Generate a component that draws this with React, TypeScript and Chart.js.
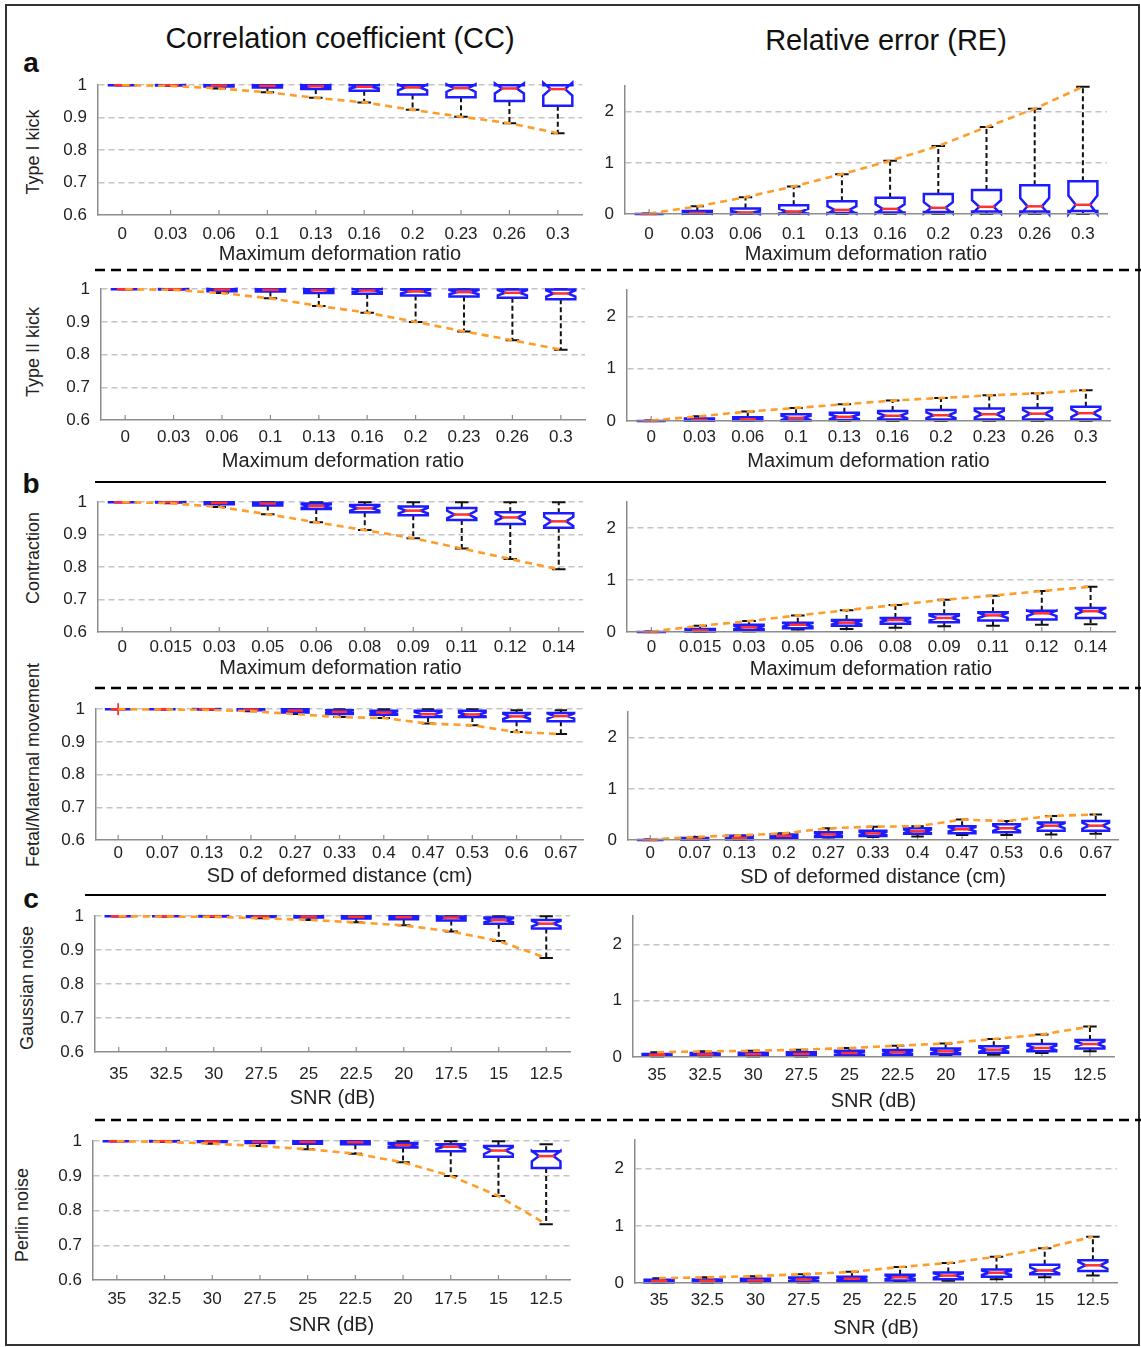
import React, { useEffect, useRef } from "react";
import { Chart, registerables } from "chart.js";

Chart.register(...registerables);

const FONT = '"Liberation Sans", Arial, Helvetica, sans-serif';
const NOTCH_SAMPLES = 25;

// ---------- categories ----------
const kickLabels = ["0", "0.03", "0.06", "0.1", "0.13", "0.16", "0.2", "0.23", "0.26", "0.3"];
const contractionLabels = ["0", "0.015", "0.03", "0.05", "0.06", "0.08", "0.09", "0.11", "0.12", "0.14"];
const movementLabels = ["0", "0.07", "0.13", "0.2", "0.27", "0.33", "0.4", "0.47", "0.53", "0.6", "0.67"];
const snrLabels = ["35", "32.5", "30", "27.5", "25", "22.5", "20", "17.5", "15", "12.5"];

// ---------- box statistics: [min, q1, median, q3, max] ----------
const kick1CC = [
  [1, 1, 1, 1, 1], [0.998, 0.999, 1, 1, 1], [0.99, 0.996, 0.999, 1, 1], [0.978, 0.993, 0.998, 1, 1],
  [0.961, 0.988, 0.997, 1, 1], [0.947, 0.983, 0.995, 1, 1], [0.924, 0.971, 0.993, 1, 1],
  [0.903, 0.963, 0.991, 1, 1], [0.883, 0.951, 0.99, 1, 1], [0.852, 0.937, 0.988, 1, 1],
];
const kick1RE = [
  [0, 0, 0, 0, 0.01], [0, 0.005, 0.02, 0.06, 0.15], [0, 0.01, 0.03, 0.11, 0.33], [0, 0.01, 0.05, 0.17, 0.54],
  [0, 0.02, 0.08, 0.25, 0.78], [0, 0.03, 0.1, 0.32, 1.04], [0, 0.04, 0.12, 0.39, 1.33],
  [0, 0.05, 0.14, 0.47, 1.7], [0, 0.05, 0.15, 0.56, 2.06], [0, 0.06, 0.18, 0.64, 2.49],
];
const kick2CC = [
  [1, 1, 1, 1, 1], [0.998, 0.999, 1, 1, 1], [0.988, 0.994, 0.999, 1, 1], [0.972, 0.993, 0.998, 1, 1],
  [0.949, 0.988, 0.997, 1, 1], [0.928, 0.986, 0.996, 1, 1], [0.9, 0.981, 0.993, 1, 1],
  [0.871, 0.978, 0.991, 0.999, 1], [0.844, 0.974, 0.989, 0.999, 1], [0.815, 0.969, 0.987, 0.999, 1],
];
const kick2RE = [
  [0, 0, 0, 0, 0.01], [0, 0.005, 0.02, 0.05, 0.09], [0, 0.01, 0.03, 0.07, 0.18], [0, 0.01, 0.06, 0.13, 0.25],
  [0, 0.02, 0.08, 0.16, 0.32], [0, 0.03, 0.1, 0.19, 0.39], [0, 0.03, 0.11, 0.21, 0.44],
  [0, 0.03, 0.13, 0.24, 0.49], [0, 0.03, 0.14, 0.25, 0.53], [0, 0.03, 0.15, 0.27, 0.59],
];
const contractionCC = [
  [1, 1, 1, 1, 1], [0.997, 0.999, 1, 1, 1], [0.985, 0.994, 0.998, 1, 1], [0.963, 0.99, 0.996, 0.999, 1],
  [0.938, 0.979, 0.988, 0.996, 1], [0.914, 0.969, 0.981, 0.991, 1], [0.889, 0.96, 0.974, 0.987, 1],
  [0.857, 0.945, 0.962, 0.982, 1], [0.825, 0.933, 0.953, 0.969, 1], [0.793, 0.921, 0.941, 0.966, 1],
];
const contractionRE = [
  [0, 0, 0, 0, 0.01], [0, 0.01, 0.03, 0.06, 0.12], [0.01, 0.04, 0.09, 0.14, 0.21], [0.05, 0.07, 0.14, 0.18, 0.32],
  [0.06, 0.12, 0.18, 0.23, 0.42], [0.08, 0.16, 0.23, 0.27, 0.52], [0.11, 0.19, 0.27, 0.34, 0.62],
  [0.12, 0.22, 0.32, 0.38, 0.7], [0.14, 0.24, 0.36, 0.41, 0.79], [0.15, 0.27, 0.4, 0.46, 0.87],
];
const movementCC = [
  [1, 1, 1, 1, 1], [0.999, 1, 1, 1, 1], [0.998, 0.999, 1, 1, 1], [0.994, 0.997, 0.999, 1, 1],
  [0.985, 0.99, 0.996, 1, 1], [0.976, 0.985, 0.992, 0.997, 1], [0.973, 0.983, 0.99, 0.995, 1],
  [0.956, 0.976, 0.985, 0.995, 1], [0.951, 0.976, 0.984, 0.995, 1], [0.93, 0.963, 0.978, 0.988, 0.997],
  [0.924, 0.963, 0.979, 0.988, 0.997],
];
const movementOutliersCC = [[0, 1]];
const movementRE = [
  [0, 0, 0, 0, 0.01], [0, 0.005, 0.02, 0.04, 0.06], [0, 0.01, 0.04, 0.085, 0.09], [0.02, 0.04, 0.08, 0.11, 0.13],
  [0.05, 0.06, 0.11, 0.15, 0.23], [0.06, 0.08, 0.13, 0.18, 0.26], [0.07, 0.12, 0.17, 0.23, 0.27],
  [0.1, 0.13, 0.21, 0.27, 0.4], [0.1, 0.15, 0.23, 0.31, 0.37], [0.11, 0.18, 0.28, 0.34, 0.47],
  [0.12, 0.18, 0.28, 0.37, 0.5],
];
const gaussianCC = [
  [1, 1, 1, 1, 1], [0.999, 1, 1, 1, 1], [0.998, 0.999, 1, 1, 1], [0.994, 0.998, 0.999, 1, 1],
  [0.989, 0.996, 0.999, 1, 1], [0.982, 0.993, 0.998, 1, 1], [0.973, 0.991, 0.997, 1, 1],
  [0.955, 0.987, 0.996, 0.999, 1], [0.927, 0.978, 0.988, 0.996, 1], [0.877, 0.964, 0.978, 0.989, 1],
];
const gaussianRE = [
  [0.01, 0.02, 0.04, 0.055, 0.085], [0.01, 0.02, 0.045, 0.07, 0.1], [0.01, 0.02, 0.05, 0.075, 0.11],
  [0.01, 0.025, 0.055, 0.085, 0.13], [0.02, 0.03, 0.07, 0.11, 0.16], [0.02, 0.04, 0.085, 0.125, 0.2],
  [0.03, 0.05, 0.1, 0.15, 0.24], [0.04, 0.075, 0.13, 0.19, 0.32], [0.07, 0.1, 0.16, 0.23, 0.4],
  [0.1, 0.15, 0.23, 0.3, 0.54],
];
const perlinCC = [
  [1, 1, 1, 1, 1], [0.998, 0.999, 1, 1, 1], [0.993, 0.998, 0.999, 1, 1], [0.986, 0.995, 0.998, 1, 1],
  [0.977, 0.993, 0.998, 1, 1], [0.964, 0.991, 0.997, 1, 1], [0.939, 0.982, 0.989, 0.995, 1],
  [0.9, 0.971, 0.984, 0.991, 1], [0.842, 0.955, 0.973, 0.986, 1], [0.761, 0.923, 0.957, 0.971, 0.991],
];
const perlinRE = [
  [0.005, 0.01, 0.035, 0.055, 0.085], [0.005, 0.015, 0.04, 0.06, 0.1], [0.01, 0.02, 0.045, 0.073, 0.12],
  [0.01, 0.02, 0.06, 0.095, 0.155], [0.02, 0.03, 0.075, 0.11, 0.195], [0.03, 0.045, 0.1, 0.145, 0.28],
  [0.04, 0.065, 0.13, 0.185, 0.35], [0.065, 0.11, 0.18, 0.235, 0.46], [0.1, 0.155, 0.22, 0.32, 0.61],
  [0.13, 0.21, 0.31, 0.4, 0.81],
];

// ---------- text ----------
const ccTitle = "Correlation coefficient (CC)";
const reTitle = "Relative error (RE)";
const ratioTitle = "Maximum deformation ratio";
const distanceTitle = "SD of deformed distance (cm)";
const snrTitle = "SNR (dB)";
const rowTitles = ["Type I kick", "Type II kick", "Contraction", "Fetal/Maternal movement", "Gaussian noise", "Perlin noise"];

interface PanelDef {
  id: string;
  labels: string[];
  stats: number[][];
  kind: "cc" | "re";
  left: number;
  top: number;
  right: number;
  bottom: number;
  tickGap: number;
  titleGap: number;
  xTitle: string;
  outliers?: number[][];
}

const panels: PanelDef[] = [
  { id: "a1c", labels: kickLabels, stats: kick1CC, kind: "cc", left: 98, top: 80, right: 582, bottom: 215, tickGap: 19, titleGap: 39, xTitle: ratioTitle },
  { id: "a1r", labels: kickLabels, stats: kick1RE, kind: "re", left: 625, top: 81, right: 1107, bottom: 214, tickGap: 20, titleGap: 40, xTitle: ratioTitle },
  { id: "a2c", labels: kickLabels, stats: kick2CC, kind: "cc", left: 101, top: 284, right: 585, bottom: 420, tickGap: 17, titleGap: 41, xTitle: ratioTitle },
  { id: "a2r", labels: kickLabels, stats: kick2RE, kind: "re", left: 627, top: 285, right: 1110, bottom: 421, tickGap: 16, titleGap: 40, xTitle: ratioTitle },
  { id: "b1c", labels: contractionLabels, stats: contractionCC, kind: "cc", left: 98, top: 497, right: 583, bottom: 632, tickGap: 15, titleGap: 36, xTitle: ratioTitle },
  { id: "b1r", labels: contractionLabels, stats: contractionRE, kind: "re", left: 627, top: 497, right: 1115, bottom: 632, tickGap: 15, titleGap: 37, xTitle: ratioTitle },
  { id: "b2c", labels: movementLabels, stats: movementCC, kind: "cc", left: 96, top: 704, right: 583, bottom: 840, tickGap: 13, titleGap: 36, xTitle: distanceTitle, outliers: movementOutliersCC },
  { id: "b2r", labels: movementLabels, stats: movementRE, kind: "re", left: 628, top: 707, right: 1118, bottom: 840, tickGap: 13, titleGap: 37, xTitle: distanceTitle },
  { id: "c1c", labels: snrLabels, stats: gaussianCC, kind: "cc", left: 95, top: 911, right: 570, bottom: 1052, tickGap: 22, titleGap: 46, xTitle: snrTitle },
  { id: "c1r", labels: snrLabels, stats: gaussianRE, kind: "re", left: 633, top: 911, right: 1114, bottom: 1057, tickGap: 18, titleGap: 44, xTitle: snrTitle },
  { id: "c2c", labels: snrLabels, stats: perlinCC, kind: "cc", left: 93, top: 1136, right: 570, bottom: 1280, tickGap: 19, titleGap: 45, xTitle: snrTitle },
  { id: "c2r", labels: snrLabels, stats: perlinRE, kind: "re", left: 635, top: 1135, right: 1117, bottom: 1283, tickGap: 17, titleGap: 45, xTitle: snrTitle },
];

// rotated row titles: [x centre, y centre]
const rowTitlePos = [
  [33, 152],
  [33, 352],
  [33, 558],
  [33, 765],
  [27, 988],
  [22, 1215],
];

const BLUE = "#1c1cff";
const RED = "#ff3030";
const ORANGE = "#ff9d2a";
const AXIS = "#8c8c8c";
const GRID = "#c4c4c4";
const TEXT = "#222";

function makeBoxPlugin(def: PanelDef) {
  return {
    id: "boxes-" + def.id,
    beforeDatasetsDraw(chart: any) {
      const xs = chart.scales.x;
      const ys = chart.scales.y;
      const ctx = chart.ctx as CanvasRenderingContext2D;
      const step = xs.getPixelForValue(1) - xs.getPixelForValue(0);
      const half = step * 0.3;
      const capHalf = step * 0.14;
      const Y = (v: number) => ys.getPixelForValue(v);
      ctx.save();
      ctx.strokeStyle = AXIS;
      ctx.lineWidth = 1.2;
      def.labels.forEach((_, i) => {
        const px = xs.getPixelForValue(i);
        ctx.beginPath();
        ctx.moveTo(px, ys.bottom);
        ctx.lineTo(px, ys.bottom - 5);
        ctx.stroke();
      });
      def.stats.forEach((s, i) => {
        const [mn, q1, md, q3, mx] = s;
        const cx = xs.getPixelForValue(i);
        ctx.strokeStyle = "#111";
        ctx.lineWidth = 2;
        ctx.setLineDash([5, 3]);
        ctx.beginPath();
        ctx.moveTo(cx, Y(q3));
        ctx.lineTo(cx, Y(mx));
        ctx.moveTo(cx, Y(q1));
        ctx.lineTo(cx, Y(mn));
        ctx.stroke();
        ctx.setLineDash([]);
        ctx.beginPath();
        ctx.moveTo(cx - capHalf, Y(mx));
        ctx.lineTo(cx + capHalf, Y(mx));
        ctx.moveTo(cx - capHalf, Y(mn));
        ctx.lineTo(cx + capHalf, Y(mn));
        ctx.stroke();
        const d = (1.57 * (q3 - q1)) / Math.sqrt(NOTCH_SAMPLES);
        const nl = md - d;
        const nh = md + d;
        ctx.beginPath();
        ctx.moveTo(cx - half, Y(q1));
        ctx.lineTo(cx - half, Y(nl));
        ctx.lineTo(cx - half / 2, Y(md));
        ctx.lineTo(cx - half, Y(nh));
        ctx.lineTo(cx - half, Y(q3));
        ctx.lineTo(cx + half, Y(q3));
        ctx.lineTo(cx + half, Y(nh));
        ctx.lineTo(cx + half / 2, Y(md));
        ctx.lineTo(cx + half, Y(nl));
        ctx.lineTo(cx + half, Y(q1));
        ctx.closePath();
        ctx.fillStyle = "#ffffff";
        ctx.fill();
        ctx.strokeStyle = BLUE;
        ctx.lineWidth = 2.5;
        ctx.stroke();
        ctx.strokeStyle = RED;
        ctx.lineWidth = 2.5;
        ctx.beginPath();
        ctx.moveTo(cx - half / 2 - 1, Y(md));
        ctx.lineTo(cx + half / 2 + 1, Y(md));
        ctx.stroke();
      });
      (def.outliers || []).forEach(([i, v]) => {
        const cx = xs.getPixelForValue(i);
        const cy = Y(v);
        ctx.strokeStyle = RED;
        ctx.lineWidth = 1.8;
        ctx.beginPath();
        ctx.moveTo(cx - 5, cy);
        ctx.lineTo(cx + 5, cy);
        ctx.moveTo(cx, cy - 6);
        ctx.lineTo(cx, cy + 6);
        ctx.stroke();
      });
      ctx.restore();
    },
  };
}

function BoxPanel({ def }: { def: PanelDef }) {
  const ref = useRef<HTMLCanvasElement | null>(null);
  const isCC = def.kind === "cc";
  const yW = 50;
  const padT = 16;
  const padR = 16;
  const hx = def.titleGap + 12;
  const cLeft = def.left - yW;
  const cTop = def.top - padT;
  const cW = def.right - def.left + yW + padR;
  const cH = def.bottom - def.top + padT + hx;

  useEffect(() => {
    if (!ref.current) return;
    const yMin = isCC ? 0.6 : 0;
    const yMax = isCC ? 1 : 2.5;
    const lineData = def.stats.map((s) => (isCC ? s[0] : s[4]));
    const chart = new Chart(ref.current, {
      type: "line",
      data: {
        labels: def.labels,
        datasets: [
          {
            data: lineData,
            borderColor: ORANGE,
            borderDash: [7, 5],
            borderWidth: 2.6,
            pointRadius: 0,
            fill: false,
            tension: 0,
            clip: false as any,
          },
        ],
      },
      options: {
        animation: false,
        responsive: false,
        maintainAspectRatio: false,
        devicePixelRatio: 1,
        events: [],
        layout: { padding: { left: 0, top: padT, right: padR, bottom: 0 } },
        plugins: { legend: { display: false }, tooltip: { enabled: false } },
        scales: {
          x: {
            type: "category",
            offset: true,
            grid: { display: false, drawTicks: false },
            border: { display: true, color: AXIS, width: 1.5, z: 1 },
            ticks: {
              autoSkip: false,
              maxRotation: 0,
              padding: def.tickGap - 10.2,
              color: TEXT,
              font: { family: FONT, size: 17 },
            },
            title: {
              display: true,
              text: def.xTitle,
              color: TEXT,
              font: { family: FONT, size: 20 },
              padding: { top: 0, bottom: 0 },
            },
            afterFit: (s: any) => {
              s.height = hx;
            },
          },
          y: {
            type: "linear",
            min: yMin,
            max: yMax,
            grid: {
              drawTicks: false,
              lineWidth: 1.5,
              color: (c: any) =>
                c.tick && Math.abs(c.tick.value - yMin) < 1e-6 ? "rgba(0,0,0,0)" : GRID,
            },
            border: { display: true, color: AXIS, width: 1.5, dash: [6, 4] },
            ticks: {
              stepSize: isCC ? 0.1 : 1,
              padding: 11,
              color: TEXT,
              font: { family: FONT, size: 17 },
              callback: (v: any) => String(+Number(v).toFixed(2)),
            },
            afterBuildTicks: (s: any) => {
              s.ticks = s.ticks.filter((t: any) => (isCC ? true : t.value <= 2 + 1e-6));
            },
            afterFit: (s: any) => {
              s.width = yW;
            },
          },
        },
      } as any,
      plugins: [makeBoxPlugin(def)],
    });
    // make the plot area land exactly on the intended rectangle
    const pad = { left: 0, top: padT, right: padR, bottom: 0 };
    for (let k = 0; k < 4; k++) {
      const ca = chart.chartArea;
      const dT = padT - ca.top;
      const dL = yW - ca.left;
      const dR = cW - padR - ca.right;
      const dB = cH - hx - ca.bottom;
      if (Math.abs(dT) < 0.5 && Math.abs(dL) < 0.5 && Math.abs(dR) < 0.5 && Math.abs(dB) < 0.5) break;
      pad.top += dT;
      pad.left += dL;
      pad.right -= dR;
      pad.bottom -= dB;
      (chart.options as any).layout.padding = { ...pad };
      chart.update();
    }
    return () => chart.destroy();
  }, [def]);

  return (
    <canvas
      ref={ref}
      width={cW}
      height={cH}
      style={{ position: "absolute", left: cLeft, top: cTop, width: cW, height: cH }}
    />
  );
}

const centered = (x: number, y: number): React.CSSProperties => ({
  position: "absolute",
  left: x,
  top: y,
  transform: "translate(-50%, -50%)",
  whiteSpace: "nowrap",
  fontFamily: FONT,
  color: "#111",
  lineHeight: 1,
});

export default function App() {
  return (
    <div
      style={{
        position: "absolute",
        left: 0,
        top: 0,
        width: 1141,
        height: 1347,
        background: "#fff",
        overflow: "hidden",
      }}
    >
      <svg width={1141} height={1347} style={{ position: "absolute", left: 0, top: 0 }}>
        <rect x={6} y={5} width={1133} height={1340} fill="none" stroke="#333" strokeWidth={2} />
        <line x1={95} y1={270} x2={1141} y2={270} stroke="#000" strokeWidth={2.5} strokeDasharray="10 6" />
        <line x1={95} y1={482} x2={1106} y2={482} stroke="#000" strokeWidth={2} />
        <line x1={95} y1={688} x2={1141} y2={688} stroke="#000" strokeWidth={2.5} strokeDasharray="10 6" />
        <line x1={85} y1={895} x2={1106} y2={895} stroke="#000" strokeWidth={2} />
        <line x1={95} y1={1120} x2={1141} y2={1120} stroke="#000" strokeWidth={2.5} strokeDasharray="10 6" />
      </svg>
      <div style={{ ...centered(340, 38), fontSize: 29 }}>{ccTitle}</div>
      <div style={{ ...centered(886, 40), fontSize: 29 }}>{reTitle}</div>
      <div style={{ ...centered(31, 63), fontSize: 28, fontWeight: "bold" }}>a</div>
      <div style={{ ...centered(31, 484), fontSize: 28, fontWeight: "bold" }}>b</div>
      <div style={{ ...centered(31, 899), fontSize: 28, fontWeight: "bold" }}>c</div>
      {rowTitles.map((t, i) => (
        <div
          key={t}
          style={{
            ...centered(rowTitlePos[i][0], rowTitlePos[i][1]),
            transform: "translate(-50%, -50%) rotate(-90deg)",
            fontSize: 18,
            color: TEXT,
          }}
        >
          {t}
        </div>
      ))}
      {panels.map((p) => (
        <BoxPanel key={p.id} def={p} />
      ))}
    </div>
  );
}
